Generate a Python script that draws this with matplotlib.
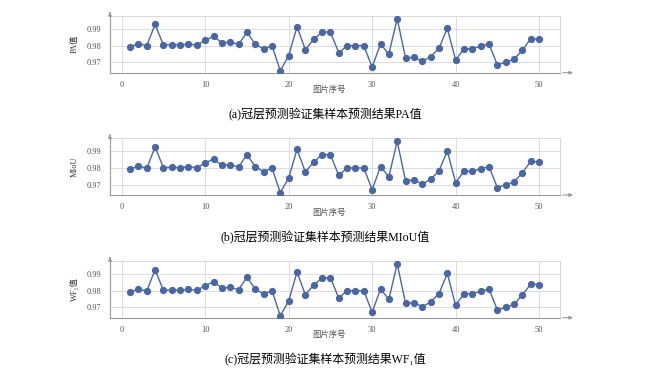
import numpy as np
import matplotlib.pyplot as plt

plt.rcParams['font.family'] = ['Liberation Serif', 'Noto Sans CJK SC', 'DejaVu Serif']

# image index
idx = np.arange(1, 51)

# PA values
pa = [0.9794, 0.9812, 0.9800, 0.9928, 0.9804, 0.9806, 0.9804, 0.9810, 0.9804, 0.9832,
      0.9856, 0.9818, 0.9820, 0.9808, 0.9880, 0.9810, 0.9780, 0.9800, 0.9650, 0.9740,
      0.9914, 0.9776, 0.9838, 0.9882, 0.9882, 0.9758, 0.9800, 0.9800, 0.9800, 0.9672,
      0.9810, 0.9750, 0.9962, 0.9726, 0.9730, 0.9706, 0.9734, 0.9784, 0.9904, 0.9714,
      0.9782, 0.9782, 0.9798, 0.9810, 0.9684, 0.9702, 0.9718, 0.9774, 0.9842, 0.9838]

# MIoU values
miou = [0.9792, 0.9812, 0.9798, 0.9926, 0.9802, 0.9804, 0.9802, 0.9808, 0.9802, 0.9830,
        0.9854, 0.9816, 0.9820, 0.9806, 0.9880, 0.9808, 0.9778, 0.9800, 0.9652, 0.9740,
        0.9912, 0.9776, 0.9836, 0.9880, 0.9880, 0.9756, 0.9800, 0.9800, 0.9800, 0.9670,
        0.9808, 0.9748, 0.9960, 0.9724, 0.9728, 0.9704, 0.9732, 0.9782, 0.9902, 0.9712,
        0.9780, 0.9780, 0.9796, 0.9808, 0.9682, 0.9700, 0.9716, 0.9772, 0.9840, 0.9836]

# WF1 values
wf1 = [0.9792, 0.9810, 0.9798, 0.9926, 0.9802, 0.9804, 0.9802, 0.9808, 0.9802, 0.9830,
       0.9854, 0.9816, 0.9820, 0.9806, 0.9880, 0.9810, 0.9780, 0.9800, 0.9650, 0.9738,
       0.9912, 0.9776, 0.9834, 0.9876, 0.9878, 0.9756, 0.9800, 0.9800, 0.9800, 0.9670,
       0.9810, 0.9748, 0.9962, 0.9724, 0.9728, 0.9704, 0.9732, 0.9782, 0.9904, 0.9712,
       0.9782, 0.9782, 0.9796, 0.9810, 0.9684, 0.9700, 0.9718, 0.9774, 0.9840, 0.9836]

series = [pa, miou, wf1]
ylabels = ['PA值', 'MIoU', 'WF\u2081值']
captions = ['(a)冠层预测验证集样本预测结果PA值',
            '(b)冠层预测验证集样本预测结果MIoU值',
            '(c)冠层预测验证集样本预测结果WF\u2081值']

W, H = 650, 368
fig = plt.figure(figsize=(6.5, 3.68), dpi=100)

# axes top in pixels
tops = [15.7, 138, 260.7]
ax_h = 57
left_px, right_px = 110, 560

col = '#4a67a5'
for k in range(3):
    top = tops[k]
    ax = fig.add_axes([left_px / W, (H - top - ax_h) / H,
                       (right_px - left_px) / W, ax_h / H])
    ax.plot(idx, series[k], color=col, lw=1.0, marker='o', ms=4.2, zorder=3)
    ax.set_xlim(-1.4, 52.5)
    ax.set_ylim(0.9638, 0.998)
    ax.set_xticks([0, 10, 20, 30, 40, 50])
    ax.set_yticks([0.97, 0.98, 0.99])
    ax.set_yticklabels(['0.97', '0.98', '0.99'])
    ax.grid(True, color='#dcdcdc', lw=0.7)
    ax.set_axisbelow(True)
    ax.tick_params(length=0, labelsize=6, colors='#555555', pad=6)
    for s in ['top', 'right']:
        ax.spines[s].set_color('#d8d8d8')
        ax.spines[s].set_linewidth(0.7)
    for s in ['left', 'bottom']:
        ax.spines[s].set_color('#999999')
        ax.spines[s].set_linewidth(0.8)
    # axis arrows
    ax.annotate('', xy=(0, 1.11), xytext=(0, 1.0), xycoords='axes fraction',
                arrowprops=dict(arrowstyle='-|>', color='#999999', lw=0.8,
                                mutation_scale=5), annotation_clip=False)
    ax.annotate('', xy=(1.035, 0), xytext=(1.0, 0), xycoords='axes fraction',
                arrowprops=dict(arrowstyle='-|>', color='#999999', lw=0.8,
                                mutation_scale=5), annotation_clip=False)
    ax.set_ylabel(ylabels[k], fontsize=6, color='#333333', labelpad=6)
    fig.text(329 / W, 1 - (top + ax_h + 17.5) / H, '图片序号', fontsize=6,
             color='#555555', ha='center', va='center')
    fig.text(325 / W, 1 - (top + ax_h + 42.5) / H, captions[k], fontsize=8.6,
             ha='center', va='center')

fig.savefig('out.png', dpi=100)
